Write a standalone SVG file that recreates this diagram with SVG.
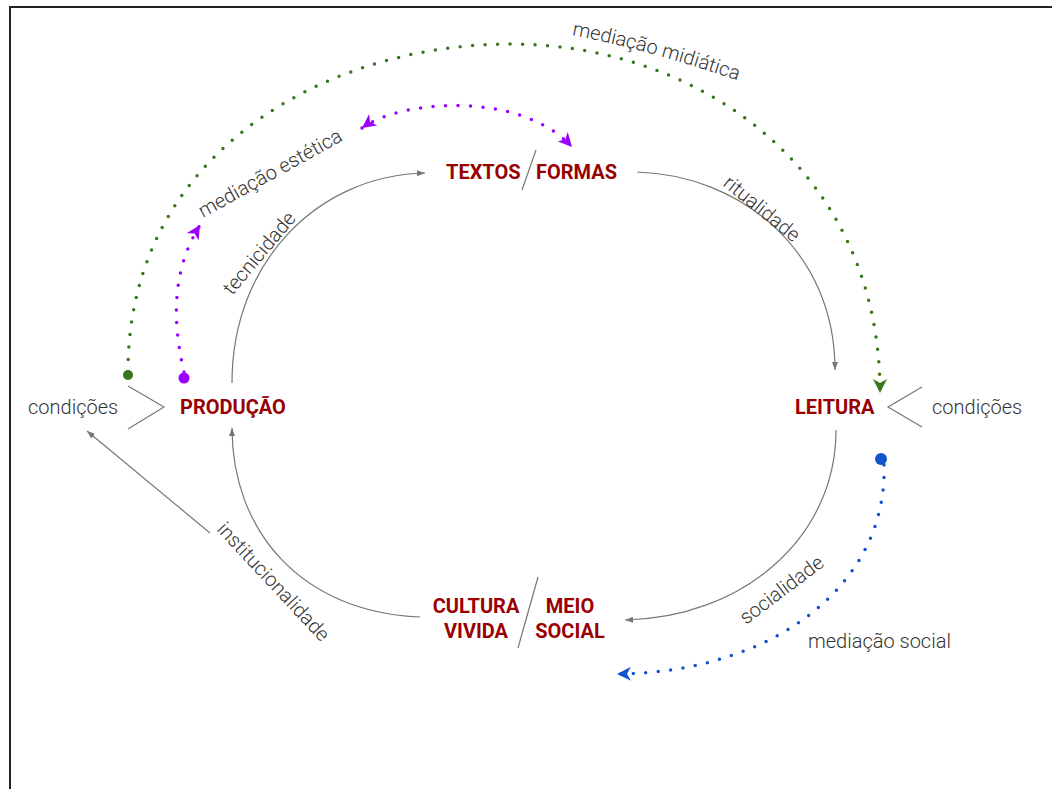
<svg xmlns="http://www.w3.org/2000/svg" width="1052" height="789" viewBox="0 0 1052 789">
<style>
.lbl{font-family:Roboto,"Liberation Sans",sans-serif;font-weight:300;font-size:20px;fill:#333}
.node{font-family:Roboto,"Liberation Sans",sans-serif;font-weight:700;font-size:20px;fill:#990000}
.arc{fill:none;stroke:#777;stroke-width:1.2}
.dot{fill:none;stroke-width:3.5;stroke-linecap:round;stroke-dasharray:0 12.5}
</style>
<defs>
<marker id="ag" markerUnits="userSpaceOnUse" markerWidth="10" markerHeight="8" refX="8" refY="4" orient="auto"><path d="M0,1 L8,4 L0,7 Z" fill="#777"/></marker>
<marker id="mg" markerUnits="userSpaceOnUse" markerWidth="16" markerHeight="14" refX="14" refY="7" orient="auto"><path d="M0,0 L14,7 L0,14 L4,7 Z" fill="#38761d"/></marker>
<marker id="mp" markerUnits="userSpaceOnUse" markerWidth="16" markerHeight="14" refX="14" refY="7" orient="auto-start-reverse"><path d="M0,0 L14,7 L0,14 L4,7 Z" fill="#9900ff"/></marker>
<marker id="mb" markerUnits="userSpaceOnUse" markerWidth="16" markerHeight="14" refX="14" refY="7" orient="auto"><path d="M0,0 L14,7 L0,14 L4,7 Z" fill="#1155cc"/></marker>
<path id="tp-mid" d="M572,35 Q650,50 748,84"/>
</defs>
<g id="frame" fill="none" stroke="#222" stroke-width="2">
<path d="M10,789 L10,7 L1052,7"/>
</g>
<g id="connectors">
<path class="arc" d="M232,383 C232,260 320,175 425,173" marker-end="url(#ag)"/>
<path class="arc" d="M637,172 C740,175 835,250 835,370" marker-end="url(#ag)"/>
<path class="arc" d="M836,430 C836,540 740,618 625,620" marker-end="url(#ag)"/>
<path class="arc" d="M420,617 C300,612 232,530 232,428" marker-end="url(#ag)"/>
<path class="arc" d="M210,533 L87,431" marker-end="url(#ag)"/>
<path class="arc" d="M128,386 L164,407 L128,429"/>
<path class="arc" d="M922,387 L888,407 L922,427"/>
<path class="arc" d="M536,150 L522,190"/>
<path class="arc" d="M538,577 L518,648"/>
<path class="dot" stroke="#38761d" d="M128,372 C128,150 330,44 510,44 C700,44 880,170 880,393" marker-end="url(#mg)"/>
<circle cx="128" cy="375" r="5" fill="#38761d"/>
<path class="dot" stroke="#9900ff" d="M184,372 C172,320 172,270 200,225" marker-end="url(#mp)"/>
<circle cx="184" cy="378" r="5.5" fill="#9900ff"/>
<path class="dot" stroke="#9900ff" d="M362,128 C400,100 520,90 572,147" marker-start="url(#mp)" marker-end="url(#mp)"/>
<path class="dot" stroke="#1155cc" d="M884,465 C888,580 780,672 617,674" marker-end="url(#mb)"/>
<circle cx="881" cy="459" r="6" fill="#1155cc"/>
</g>
<g id="textos-formas">
<text class="node" x="446" y="179">TEXTOS</text>
<text class="node" x="536" y="179">FORMAS</text>
</g>
<g id="producao"><text class="node" x="180" y="414">PRODUÇÃO</text></g>
<g id="leitura"><text class="node" x="795" y="414">LEITURA</text></g>
<g id="cultura-meio">
<text class="node" x="476" y="613" text-anchor="middle">CULTURA</text>
<text class="node" x="476" y="638" text-anchor="middle">VIVIDA</text>
<text class="node" x="570" y="613" text-anchor="middle">MEIO</text>
<text class="node" x="570" y="638" text-anchor="middle">SOCIAL</text>
</g>
<g id="cond-left"><text class="lbl" x="28" y="414">condições</text></g>
<g id="cond-right"><text class="lbl" x="932" y="414">condições</text></g>
<g id="labels">
<text class="lbl"><textPath href="#tp-mid">mediação midiática</textPath></text>
<text class="lbl" transform="translate(203,218) rotate(-29)">mediação estética</text>
<text class="lbl" transform="translate(232,296) rotate(-50)">tecnicidade</text>
<text class="lbl" transform="translate(722,185) rotate(39)">ritualidade</text>
<text class="lbl" transform="translate(746,625) rotate(-37)">socialidade</text>
<text class="lbl" transform="translate(216,530) rotate(47)">institucionalidade</text>
<text class="lbl" x="808" y="648">mediação social</text>
</g>
</svg>
